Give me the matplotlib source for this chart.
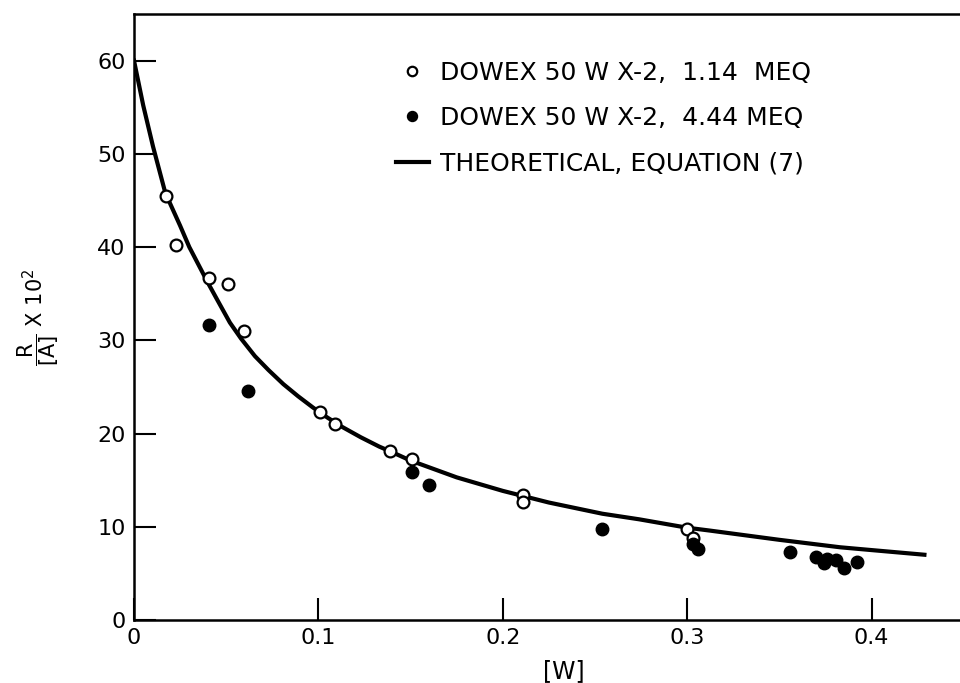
import matplotlib.pyplot as plt

# DOWEX 50 W X-2, 1.14 MEQ (open circles)
w_low = [0.0173, 0.0228, 0.0407, 0.051, 0.0596, 0.101, 0.109, 0.139, 0.151,
         0.211, 0.211, 0.300, 0.303]
r_low = [45.5, 40.2, 36.7, 36.0, 31.0, 22.3, 21.0, 18.1, 17.3,
         13.4, 12.7, 9.8, 8.8]

# DOWEX 50 W X-2, 4.44 MEQ (filled circles)
w_high = [0.0407, 0.0618, 0.151, 0.160, 0.254, 0.303, 0.306, 0.356, 0.370,
          0.374, 0.376, 0.381, 0.385, 0.392]
r_high = [31.6, 24.6, 15.9, 14.5, 9.8, 8.2, 7.6, 7.3, 6.8,
          6.1, 6.5, 6.4, 5.6, 6.2]

# theoretical curve, equation (7)
w_theory = [0.0, 0.005, 0.0103, 0.017, 0.025, 0.03, 0.04, 0.045, 0.052,
            0.058, 0.0656, 0.073, 0.081, 0.089, 0.097, 0.105, 0.113, 0.123,
            0.133, 0.14, 0.15, 0.175, 0.2, 0.225, 0.254, 0.274, 0.3, 0.312,
            0.35, 0.383, 0.40, 0.4287]
r_theory = [60.0, 55.2, 50.8, 45.8, 42.3, 40.0, 36.2, 34.4, 31.9,
            30.2, 28.3, 26.8, 25.3, 24.0, 22.8, 21.7, 20.7, 19.6,
            18.6, 18.0, 17.1, 15.3, 13.85, 12.6, 11.4, 10.8, 9.9, 9.6,
            8.6, 7.8, 7.5, 7.0]

x_ticks = [0, 0.1, 0.2, 0.3, 0.4]
x_labels = ["0", "0.1", "0.2", "0.3", "0.4"]
y_ticks = [0, 10, 20, 30, 40, 50, 60]

plt.rcParams["font.family"] = ["DejaVu Sans"]

fig = plt.figure(figsize=(9.6, 6.83), dpi=100)
ax = fig.add_axes([134 / 960, 1 - 620 / 683, 1 - 134 / 960, (620 - 14) / 683])

ax.plot(w_theory, r_theory, "-", color="black", lw=3,
        label="THEORETICAL, EQUATION (7)", zorder=2)
ax.plot(w_low, r_low, "o", ms=8.5, mfc="white", mec="black", mew=1.6,
        label="DOWEX 50 W X-2,  1.14  MEQ", zorder=3)
ax.plot(w_high, r_high, "o", ms=9, color="black",
        label="DOWEX 50 W X-2,  4.44 MEQ", zorder=3)

ax.set_xlim(0, 0.448)
ax.set_ylim(0, 65.0)
ax.set_xticks(x_ticks)
ax.set_xticklabels(x_labels)
ax.set_yticks(y_ticks)
ax.tick_params(direction="in", length=16, width=1.5, labelsize=16, pad=6,
               colors="black")
ax.spines["right"].set_visible(False)
for s in ("left", "bottom", "top"):
    ax.spines[s].set_linewidth(1.8)

ax.set_xlabel("[W]", fontsize=17, labelpad=4)
ax.xaxis.set_label_coords(0.52, -0.065)
ax.set_ylabel(r"$\dfrac{\mathrm{R}}{[\mathrm{A}]}$ X 10$^2$", fontsize=15,
              labelpad=26)

handles, labels = ax.get_legend_handles_labels()
order = [1, 2, 0]
ax.legend([handles[i] for i in order], [labels[i] for i in order],
          loc="upper left", bbox_to_anchor=(0.29, 0.96), frameon=False,
          fontsize=18, handlelength=1.3, handletextpad=0.45, labelspacing=0.86,
          markerscale=0.8)

fig.savefig("out.png", dpi=100)
